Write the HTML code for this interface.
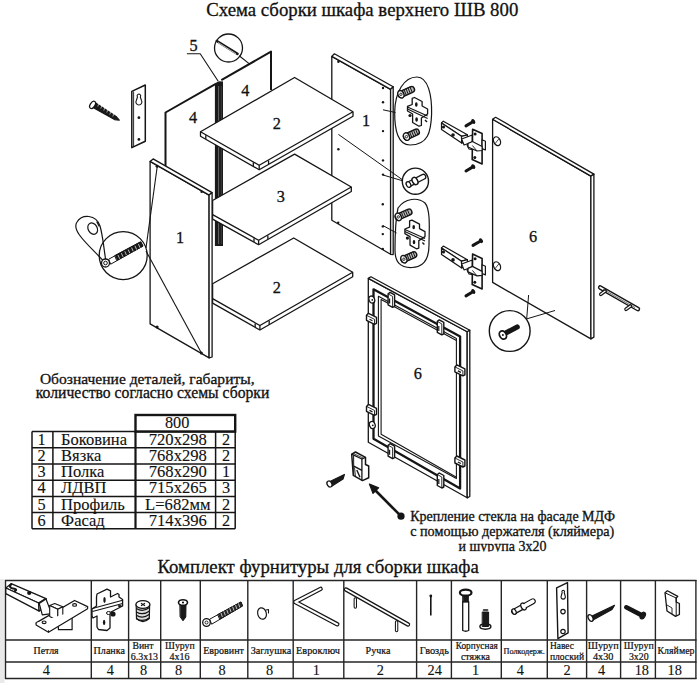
<!DOCTYPE html>
<html><head><meta charset="utf-8"><style>
html,body{margin:0;padding:0;background:#fff;}
svg{display:block;}
text{font-family:"Liberation Serif",serif;fill:#111;stroke:#111;stroke-width:0.3px;}
</style></head><body>
<svg width="700" height="683" viewBox="0 0 700 683">
<rect width="700" height="683" fill="#fff"/>
<text x="206.2" y="16" font-size="18.8" text-anchor="start" >Схема сборки шкафа верхнего ШВ 800</text>
<polygon points="131.8,91.4 145.3,85 145.3,141.2 131.8,147.6" fill="none" stroke="#151515" stroke-width="1.5" stroke-linejoin="round"/>
<line x1="133.6" y1="91.5" x2="133.6" y2="147" stroke="#151515" stroke-width="0.9"/>
<path d="M137.5,97 a1.8,1.8 0 1 1 2.8,0 l1.2,3.5 a3,3 0 1 1 -5.2,0 z" fill="none" stroke="#151515" stroke-width="1.1" stroke-linejoin="round" stroke-linecap="round"/>
<circle cx="138.9" cy="117.7" r="1.4" fill="#151515"/>
<circle cx="138.9" cy="139.4" r="1.4" fill="#151515"/>
<path d="M94.5,102.3 L116.5,116.8 L119.3,120.2 L114.5,119.6 L92.5,107.2 Z" fill="#1a1a1a" stroke="#151515" stroke-width="1.1" stroke-linejoin="round" stroke-linecap="round"/>
<line x1="99.0" y1="103.3" x2="97.8" y2="106.5" stroke="#fff" stroke-width="0.6"/>
<line x1="102.0" y1="105.3" x2="100.8" y2="108.5" stroke="#fff" stroke-width="0.6"/>
<line x1="105.0" y1="107.3" x2="103.8" y2="110.5" stroke="#fff" stroke-width="0.6"/>
<line x1="108.0" y1="109.3" x2="106.8" y2="112.5" stroke="#fff" stroke-width="0.6"/>
<line x1="111.0" y1="111.3" x2="109.8" y2="114.5" stroke="#fff" stroke-width="0.6"/>
<line x1="114.0" y1="113.3" x2="112.8" y2="116.5" stroke="#fff" stroke-width="0.6"/>
<ellipse cx="92.6" cy="104.9" rx="2.3" ry="4.0" transform="rotate(33 92.6 104.9)" fill="#fff" stroke="#151515" stroke-width="1.3"/>
<polyline points="165.5,168 165.5,112.5 215.3,84.1" fill="none" stroke="#151515" stroke-width="2.0" stroke-linejoin="round"/>
<polyline points="221.3,80.2 271,51.6 271,90" fill="none" stroke="#151515" stroke-width="2.0" stroke-linejoin="round"/>
<text x="193" y="123" font-size="16.3" text-anchor="middle" >4</text>
<text x="245.3" y="96" font-size="16.3" text-anchor="middle" >4</text>
<polygon points="214.9,83.2 219,81.2 223,81.4 223,246 214.9,246" fill="#1a1a1a"/>
<line x1="218.6" y1="86" x2="218.6" y2="244" stroke="#999" stroke-width="0.6"/>
<line x1="221.3" y1="86" x2="221.3" y2="244" stroke="#666" stroke-width="0.5"/>
<text x="193.5" y="50.5" font-size="16.3" text-anchor="middle" >5</text>
<polyline points="186.9,53.7 200.2,53.7 218.2,81.2" fill="none" stroke="#151515" stroke-width="1.1" stroke-linejoin="round"/>
<circle cx="228.5" cy="48" r="14" fill="none" stroke="#151515" stroke-width="1.3"/>
<path d="M216.8,41 L237.5,53.8" fill="none" stroke="#151515" stroke-width="2.6" stroke-linejoin="round" stroke-linecap="round"/>
<line x1="218" y1="42.5" x2="236" y2="53.8" stroke="#fff" stroke-width="0.7"/>
<line x1="239.2" y1="55.7" x2="249.4" y2="63.9" stroke="#151515" stroke-width="1.1"/>
<polygon points="331.8,56.4 390.6,89.4 390.6,254.3 331.8,220.2" fill="#fff" stroke="#151515" stroke-width="1.3" stroke-linejoin="round"/>
<polygon points="331.8,56.4 334.40000000000003,53.8 393.20000000000005,86.80000000000001 390.6,89.4" fill="#fff" stroke="#151515" stroke-width="1.3" stroke-linejoin="round"/>
<polygon points="390.6,89.4 393.20000000000005,86.80000000000001 393.20000000000005,254.6 390.6,254.3" fill="#fff" stroke="#151515" stroke-width="1.3" stroke-linejoin="round"/>
<text x="366" y="126" font-size="16.3" text-anchor="middle" >1</text>
<circle cx="338.4" cy="61.8" r="1.2" fill="#151515"/>
<circle cx="383" cy="88" r="1.2" fill="#151515"/>
<circle cx="383" cy="102.2" r="1.2" fill="#151515"/>
<circle cx="383" cy="131.1" r="1.2" fill="#151515"/>
<circle cx="383" cy="160.4" r="1.2" fill="#151515"/>
<circle cx="338.4" cy="149.3" r="1.2" fill="#151515"/>
<circle cx="383" cy="174.6" r="1.2" fill="#151515"/>
<circle cx="382.8" cy="204.3" r="1.2" fill="#151515"/>
<circle cx="382.8" cy="226.4" r="1.2" fill="#151515"/>
<circle cx="382.8" cy="234.1" r="1.2" fill="#151515"/>
<circle cx="382.8" cy="248.9" r="1.2" fill="#151515"/>
<circle cx="338.2" cy="222.8" r="1.2" fill="#151515"/>
<line x1="383" y1="109.8" x2="395.5" y2="112.5" stroke="#151515" stroke-width="1.0"/>
<line x1="338.4" y1="134.4" x2="402.1" y2="179.5" stroke="#151515" stroke-width="1.0"/>
<line x1="383" y1="175" x2="402" y2="180.6" stroke="#151515" stroke-width="1.0"/>
<line x1="383" y1="225.6" x2="396.6" y2="233" stroke="#151515" stroke-width="1.0"/>
<polygon points="200.5,131.7 294.6,77.5 353,111.8 353,116.3 259.2,169.8 200.5,136.2" fill="#fff" stroke="#151515" stroke-width="1.3" stroke-linejoin="round"/>
<polyline points="200.5,131.7 259.2,165.3 353,111.8" fill="none" stroke="#151515" stroke-width="1.3" stroke-linejoin="round"/>
<line x1="259.2" y1="165.3" x2="259.2" y2="169.8" stroke="#151515" stroke-width="1.3"/>
<line x1="205.783" y1="135.32399999999998" x2="205.783" y2="138.92399999999998" stroke="#151515" stroke-width="1.3"/>
<line x1="253.32999999999998" y1="162.54" x2="253.32999999999998" y2="166.14" stroke="#151515" stroke-width="1.3"/>
<line x1="268.58" y1="160.55" x2="268.58" y2="164.15" stroke="#151515" stroke-width="1.3"/>
<polygon points="212.6,200.5 294.6,154.1 351.3,187 351.3,191.5 258.6,244.7 212.6,219.1" fill="#fff" stroke="#151515" stroke-width="1.3" stroke-linejoin="round"/>
<polyline points="212.6,214.6 258.6,240.2 351.3,187" fill="none" stroke="#151515" stroke-width="1.3" stroke-linejoin="round"/>
<line x1="258.6" y1="240.2" x2="258.6" y2="244.7" stroke="#151515" stroke-width="1.3"/>
<line x1="254.00000000000003" y1="238.23999999999998" x2="254.00000000000003" y2="241.83999999999997" stroke="#151515" stroke-width="1.3"/>
<line x1="267.87" y1="235.48" x2="267.87" y2="239.07999999999998" stroke="#151515" stroke-width="1.3"/>
<polygon points="212.6,283.7 293.7,238 352.7,272.3 352.7,276.8 259.9,330.0 212.6,303.1" fill="#fff" stroke="#151515" stroke-width="1.3" stroke-linejoin="round"/>
<polyline points="212.6,298.6 259.9,325.5 352.7,272.3" fill="none" stroke="#151515" stroke-width="1.3" stroke-linejoin="round"/>
<line x1="259.9" y1="325.5" x2="259.9" y2="330.0" stroke="#151515" stroke-width="1.3"/>
<line x1="255.17" y1="323.41" x2="255.17" y2="327.01" stroke="#151515" stroke-width="1.3"/>
<line x1="269.17999999999995" y1="320.78000000000003" x2="269.17999999999995" y2="324.38" stroke="#151515" stroke-width="1.3"/>
<text x="276.7" y="128.5" font-size="16.3" text-anchor="middle" >2</text>
<text x="280.8" y="202" font-size="16.3" text-anchor="middle" >3</text>
<text x="276.7" y="293" font-size="16.3" text-anchor="middle" >2</text>
<polygon points="150.1,161.4 209.1,195.1 209.1,357.9 150.1,323.9" fill="#fff" stroke="#151515" stroke-width="1.3" stroke-linejoin="round"/>
<polygon points="150.1,161.4 153.1,158.9 212.1,192.6 209.1,195.1" fill="#fff" stroke="#151515" stroke-width="1.3" stroke-linejoin="round"/>
<polygon points="209.1,195.1 212.1,192.6 212.1,357 209.1,357.9" fill="#fff" stroke="#151515" stroke-width="1.3" stroke-linejoin="round"/>
<text x="180" y="242.5" font-size="16.3" text-anchor="middle" >1</text>
<circle cx="157.1" cy="166.3" r="1.5" fill="#151515"/>
<circle cx="157.1" cy="327.1" r="1.5" fill="#151515"/>
<circle cx="201.4" cy="352.9" r="1.5" fill="#151515"/>
<circle cx="201.7" cy="191.7" r="1.3" fill="#151515"/>
<line x1="157.3" y1="166" x2="146" y2="248" stroke="#151515" stroke-width="1.1"/>
<line x1="146" y1="251" x2="201.4" y2="352.9" stroke="#151515" stroke-width="1.1"/>
<circle cx="123.2" cy="255.6" r="24" fill="none" stroke="#151515" stroke-width="1.3"/>
<path d="M105,263 C95,250 70,232 77,222 C82,214 96,214 100,226 C103,236 104,250 106,262" fill="none" stroke="#151515" stroke-width="1.2" stroke-linejoin="round" stroke-linecap="round"/>
<ellipse cx="92.7" cy="228.6" rx="4.5" ry="6" transform="rotate(-30 92.7 228.6)" fill="none" stroke="#151515" stroke-width="1.2"/>
<path d="M99,226 L97,222" fill="none" stroke="#151515" stroke-width="1.2" stroke-linejoin="round" stroke-linecap="round"/>
<path d="M109,259 L141,242 L143,246 L111,264 Z" fill="#fff" stroke="#151515" stroke-width="1" stroke-linejoin="round" stroke-linecap="round"/>
<path d="M115,255.5 L140.5,241.8 L142.8,246.2 L117,260.2 Z" fill="#1a1a1a" stroke="#151515" stroke-width="1" stroke-linejoin="round" stroke-linecap="round"/>
<line x1="118.0" y1="255.0" x2="119.6" y2="258.7" stroke="#fff" stroke-width="0.7"/>
<line x1="121.4" y1="253.17" x2="123.0" y2="256.87" stroke="#fff" stroke-width="0.7"/>
<line x1="124.8" y1="251.34" x2="126.39999999999999" y2="255.04" stroke="#fff" stroke-width="0.7"/>
<line x1="128.2" y1="249.51" x2="129.79999999999998" y2="253.20999999999998" stroke="#fff" stroke-width="0.7"/>
<line x1="131.6" y1="247.68" x2="133.2" y2="251.38" stroke="#fff" stroke-width="0.7"/>
<line x1="135.0" y1="245.85" x2="136.6" y2="249.54999999999998" stroke="#fff" stroke-width="0.7"/>
<line x1="138.4" y1="244.02" x2="140.0" y2="247.72" stroke="#fff" stroke-width="0.7"/>
<circle cx="105.5" cy="263" r="4" fill="#fff" stroke="#151515" stroke-width="1.3"/>
<circle cx="105.5" cy="263" r="1.8" fill="none" stroke="#151515" stroke-width="1"/>
<circle cx="415.4" cy="181.2" r="13.1" fill="#fff" stroke="#151515" stroke-width="1.4"/>
<path d="M409,184.2 L423.3,176.8" fill="none" stroke="#151515" stroke-width="6.2" stroke-linejoin="round" stroke-linecap="round"/>
<path d="M409,184.2 L423.3,176.8" fill="none" stroke="#fff" stroke-width="3.6" stroke-linejoin="round" stroke-linecap="round"/>
<ellipse cx="415" cy="181" rx="2.6" ry="3.9" transform="rotate(-28 415 181)" fill="#fff" stroke="#151515" stroke-width="1.5"/>
<ellipse cx="408.5" cy="184.5" rx="2.1" ry="3.0" transform="rotate(-28 408.5 184.5)" fill="#fff" stroke="#151515" stroke-width="1.3"/>
<path d="M417,77 C428,77 432,95 431.6,114 C431,132 428,145 410,145 C398,145 394.5,130 394.7,112 C395,92 404,77 417,77 Z" fill="none" stroke="#151515" stroke-width="1.2" stroke-linejoin="round" stroke-linecap="round"/>
<path d="M398,208 C405,198 418,197 425,203 C431,210 429,232 429,245 C429,258 424,267 412,267.5 C400,268 395,262 395,250 C395,235 395,222 398,208 Z" fill="none" stroke="#151515" stroke-width="1.2" stroke-linejoin="round" stroke-linecap="round"/>
<path d="M400.9,94.3 L411.5,89.6" fill="none" stroke="#151515" stroke-width="7.4" stroke-linejoin="round" stroke-linecap="round"/>
<path d="M400.9,94.3 L411.5,89.6" fill="none" stroke="#bbb" stroke-width="4.6" stroke-linejoin="round" stroke-linecap="round"/>
<line x1="401.79999999999995" y1="90.1" x2="404.4" y2="96.3" stroke="#151515" stroke-width="1.0"/>
<line x1="403.79999999999995" y1="89.21" x2="406.4" y2="95.41" stroke="#151515" stroke-width="1.0"/>
<line x1="405.79999999999995" y1="88.32" x2="408.4" y2="94.52" stroke="#151515" stroke-width="1.0"/>
<line x1="407.79999999999995" y1="87.42999999999999" x2="410.4" y2="93.63" stroke="#151515" stroke-width="1.0"/>
<line x1="409.79999999999995" y1="86.53999999999999" x2="412.4" y2="92.74" stroke="#151515" stroke-width="1.0"/>
<ellipse cx="400.9" cy="94.3" rx="2.9" ry="3.9" transform="rotate(-25 400.9 94.3)" fill="#fff" stroke="#151515" stroke-width="1.5"/>
<circle cx="400.9" cy="94.3" r="1.2" fill="none" stroke="#151515" stroke-width="0.9"/>
<path d="M406.5,136.6 L416.3,132.2" fill="none" stroke="#151515" stroke-width="7.4" stroke-linejoin="round" stroke-linecap="round"/>
<path d="M406.5,136.6 L416.3,132.2" fill="none" stroke="#bbb" stroke-width="4.6" stroke-linejoin="round" stroke-linecap="round"/>
<line x1="407.4" y1="132.4" x2="410.0" y2="138.6" stroke="#151515" stroke-width="1.0"/>
<line x1="409.4" y1="131.51000000000002" x2="412.0" y2="137.71" stroke="#151515" stroke-width="1.0"/>
<line x1="411.4" y1="130.62" x2="414.0" y2="136.82" stroke="#151515" stroke-width="1.0"/>
<line x1="413.4" y1="129.73000000000002" x2="416.0" y2="135.93" stroke="#151515" stroke-width="1.0"/>
<line x1="415.4" y1="128.84" x2="418.0" y2="135.04" stroke="#151515" stroke-width="1.0"/>
<ellipse cx="406.5" cy="136.6" rx="2.9" ry="3.9" transform="rotate(-25 406.5 136.6)" fill="#fff" stroke="#151515" stroke-width="1.5"/>
<circle cx="406.5" cy="136.6" r="1.2" fill="none" stroke="#151515" stroke-width="0.9"/>
<path d="M412.2,98.3 L414.5,97.5 L422.1,101.5 L422.1,106 L427.6,109 L427.6,114 L421.4,118 L421.4,125.5 L419,126.2 L412.6,122.5 L412.6,114 L407.5,111 L407.5,106.4 L412.2,104.5 Z" fill="#fff" stroke="#151515" stroke-width="1.3" stroke-linejoin="round" stroke-linecap="round"/>
<line x1="407.5" y1="107" x2="427.6" y2="116" stroke="#151515" stroke-width="1.1"/>
<line x1="407.5" y1="109" x2="427.6" y2="118.5" stroke="#151515" stroke-width="1.1"/>
<ellipse cx="416.3" cy="104.5" rx="1.3" ry="2.2" fill="#151515"/>
<ellipse cx="416.6" cy="119.5" rx="1.3" ry="2.2" fill="#151515"/>
<circle cx="410" cy="115.5" r="1.6" fill="#151515"/>
<line x1="425" y1="120" x2="427" y2="122" stroke="#151515" stroke-width="1.4"/>
<path d="M398.29999999999995,216.89999999999998 L408.9,212.2" fill="none" stroke="#151515" stroke-width="7.4" stroke-linejoin="round" stroke-linecap="round"/>
<path d="M398.29999999999995,216.89999999999998 L408.9,212.2" fill="none" stroke="#bbb" stroke-width="4.6" stroke-linejoin="round" stroke-linecap="round"/>
<line x1="399.19999999999993" y1="212.7" x2="401.79999999999995" y2="218.89999999999998" stroke="#151515" stroke-width="1.0"/>
<line x1="401.19999999999993" y1="211.81" x2="403.79999999999995" y2="218.01" stroke="#151515" stroke-width="1.0"/>
<line x1="403.19999999999993" y1="210.92" x2="405.79999999999995" y2="217.11999999999998" stroke="#151515" stroke-width="1.0"/>
<line x1="405.19999999999993" y1="210.03" x2="407.79999999999995" y2="216.23" stroke="#151515" stroke-width="1.0"/>
<line x1="407.19999999999993" y1="209.14" x2="409.79999999999995" y2="215.33999999999997" stroke="#151515" stroke-width="1.0"/>
<ellipse cx="398.29999999999995" cy="216.89999999999998" rx="2.9" ry="3.9" transform="rotate(-25 398.29999999999995 216.89999999999998)" fill="#fff" stroke="#151515" stroke-width="1.5"/>
<circle cx="398.29999999999995" cy="216.89999999999998" r="1.2" fill="none" stroke="#151515" stroke-width="0.9"/>
<path d="M403.9,259.2 L413.7,254.79999999999998" fill="none" stroke="#151515" stroke-width="7.4" stroke-linejoin="round" stroke-linecap="round"/>
<path d="M403.9,259.2 L413.7,254.79999999999998" fill="none" stroke="#bbb" stroke-width="4.6" stroke-linejoin="round" stroke-linecap="round"/>
<line x1="404.79999999999995" y1="255.0" x2="407.4" y2="261.2" stroke="#151515" stroke-width="1.0"/>
<line x1="406.79999999999995" y1="254.11" x2="409.4" y2="260.31" stroke="#151515" stroke-width="1.0"/>
<line x1="408.79999999999995" y1="253.22000000000003" x2="411.4" y2="259.42" stroke="#151515" stroke-width="1.0"/>
<line x1="410.79999999999995" y1="252.33" x2="413.4" y2="258.53" stroke="#151515" stroke-width="1.0"/>
<line x1="412.79999999999995" y1="251.44" x2="415.4" y2="257.64" stroke="#151515" stroke-width="1.0"/>
<ellipse cx="403.9" cy="259.2" rx="2.9" ry="3.9" transform="rotate(-25 403.9 259.2)" fill="#fff" stroke="#151515" stroke-width="1.5"/>
<circle cx="403.9" cy="259.2" r="1.2" fill="none" stroke="#151515" stroke-width="0.9"/>
<path d="M409.59999999999997,220.89999999999998 L411.9,220.1 L419.5,224.1 L419.5,228.6 L425.0,231.6 L425.0,236.6 L418.79999999999995,240.6 L418.79999999999995,248.1 L416.4,248.8 L410.0,245.1 L410.0,236.6 L404.9,233.6 L404.9,229.0 L409.59999999999997,227.1 Z" fill="#fff" stroke="#151515" stroke-width="1.3" stroke-linejoin="round" stroke-linecap="round"/>
<line x1="404.9" y1="229.6" x2="425.0" y2="238.6" stroke="#151515" stroke-width="1.1"/>
<line x1="404.9" y1="231.6" x2="425.0" y2="241.1" stroke="#151515" stroke-width="1.1"/>
<ellipse cx="413.7" cy="227.1" rx="1.3" ry="2.2" fill="#151515"/>
<ellipse cx="414.0" cy="242.1" rx="1.3" ry="2.2" fill="#151515"/>
<circle cx="407.4" cy="238.1" r="1.6" fill="#151515"/>
<line x1="422.4" y1="242.6" x2="424.4" y2="244.6" stroke="#151515" stroke-width="1.4"/>
<path d="M441.5,123 L443.3,121.2 L467.4,134.8 L461.5,136.3 Z" fill="#fff" stroke="#151515" stroke-width="1.2" stroke-linejoin="round" stroke-linecap="round"/>
<path d="M441.5,123 L461.5,136.3 L461.7,143.1 L441.5,129.5 Z" fill="#fff" stroke="#151515" stroke-width="1.2" stroke-linejoin="round" stroke-linecap="round"/>
<path d="M461.5,136.3 L467.4,134.8 L467.4,141 L461.7,143.1 Z" fill="#fff" stroke="#151515" stroke-width="1.2" stroke-linejoin="round" stroke-linecap="round"/>
<circle cx="453" cy="135" r="1.8" fill="#151515"/>
<circle cx="443.5" cy="127" r="1.6" fill="#151515"/>
<path d="M461.7,139 L472.3,135 L472.3,142 L464,145 Z" fill="#fff" stroke="#151515" stroke-width="1.1" stroke-linejoin="round" stroke-linecap="round"/>
<path d="M467,145 L472.3,142 L474,150 L469,149 Z" fill="#fff" stroke="#151515" stroke-width="1.1" stroke-linejoin="round" stroke-linecap="round"/>
<polygon points="472.6,129.2 482.1,133.6 482.1,164 472.2,159.6" fill="#fff" stroke="#151515" stroke-width="1.6" stroke-linejoin="round"/>
<polygon points="482.1,139.8 485.4,141.3 485.4,150 482.1,148.6" fill="#fff" stroke="#151515" stroke-width="1.2" stroke-linejoin="round"/>
<polygon points="468,143.5 472.4,141.5 482.1,146.5 482.1,150.5 477,151 468,147" fill="#fff" stroke="#151515" stroke-width="1.2" stroke-linejoin="round"/>
<line x1="472.4" y1="145.5" x2="477" y2="151" stroke="#151515" stroke-width="0.9"/>
<circle cx="475.1" cy="133.9" r="1.5" fill="#151515"/>
<circle cx="474.8" cy="157.4" r="1.5" fill="#151515"/>
<path d="M466,125.9 L473.3,121.5" fill="none" stroke="#151515" stroke-width="3.0" stroke-linejoin="round" stroke-linecap="round"/>
<ellipse cx="473.3" cy="121.5" rx="1.7" ry="2.6" transform="rotate(-35 473.3 121.5)" fill="#151515"/>
<path d="M466,171 L473.3,166.6" fill="none" stroke="#151515" stroke-width="3.0" stroke-linejoin="round" stroke-linecap="round"/>
<ellipse cx="473.3" cy="166.6" rx="1.7" ry="2.6" transform="rotate(-35 473.3 166.6)" fill="#151515"/>
<path d="M441.5,247.9 L443.3,246.10000000000002 L467.4,259.70000000000005 L461.5,261.20000000000005 Z" fill="#fff" stroke="#151515" stroke-width="1.2" stroke-linejoin="round" stroke-linecap="round"/>
<path d="M441.5,247.9 L461.5,261.20000000000005 L461.7,268.0 L441.5,254.4 Z" fill="#fff" stroke="#151515" stroke-width="1.2" stroke-linejoin="round" stroke-linecap="round"/>
<path d="M461.5,261.20000000000005 L467.4,259.70000000000005 L467.4,265.9 L461.7,268.0 Z" fill="#fff" stroke="#151515" stroke-width="1.2" stroke-linejoin="round" stroke-linecap="round"/>
<circle cx="453" cy="259.9" r="1.8" fill="#151515"/>
<circle cx="443.5" cy="251.9" r="1.6" fill="#151515"/>
<path d="M461.7,263.9 L472.3,259.9 L472.3,266.9 L464,269.9 Z" fill="#fff" stroke="#151515" stroke-width="1.1" stroke-linejoin="round" stroke-linecap="round"/>
<path d="M467,269.9 L472.3,266.9 L474,274.9 L469,273.9 Z" fill="#fff" stroke="#151515" stroke-width="1.1" stroke-linejoin="round" stroke-linecap="round"/>
<polygon points="472.6,254.1 482.1,258.5 482.1,288.9 472.2,284.5" fill="#fff" stroke="#151515" stroke-width="1.6" stroke-linejoin="round"/>
<polygon points="482.1,264.70000000000005 485.4,266.20000000000005 485.4,274.9 482.1,273.5" fill="#fff" stroke="#151515" stroke-width="1.2" stroke-linejoin="round"/>
<polygon points="468,268.4 472.4,266.4 482.1,271.4 482.1,275.4 477,275.9 468,271.9" fill="#fff" stroke="#151515" stroke-width="1.2" stroke-linejoin="round"/>
<line x1="472.4" y1="270.4" x2="477" y2="275.9" stroke="#151515" stroke-width="0.9"/>
<circle cx="475.1" cy="258.8" r="1.5" fill="#151515"/>
<circle cx="474.8" cy="282.3" r="1.5" fill="#151515"/>
<path d="M473,245.4 L481,240.7" fill="none" stroke="#151515" stroke-width="3.0" stroke-linejoin="round" stroke-linecap="round"/>
<ellipse cx="481" cy="240.7" rx="1.7" ry="2.6" transform="rotate(-35 481 240.7)" fill="#151515"/>
<path d="M466,295.9 L473.3,291.5" fill="none" stroke="#151515" stroke-width="3.0" stroke-linejoin="round" stroke-linecap="round"/>
<ellipse cx="473.3" cy="291.5" rx="1.7" ry="2.6" transform="rotate(-35 473.3 291.5)" fill="#151515"/>
<polygon points="492.6,119.3 590.9,176.1 590.9,338.9 492.6,282.4" fill="#fff" stroke="#151515" stroke-width="1.3" stroke-linejoin="round"/>
<polygon points="492.6,119.3 495.6,117.3 593.9,174.1 590.9,176.1" fill="#fff" stroke="#151515" stroke-width="1.3" stroke-linejoin="round"/>
<polygon points="590.9,176.1 593.9,174.1 593.9,337.1 590.9,338.9" fill="#fff" stroke="#151515" stroke-width="1.3" stroke-linejoin="round"/>
<ellipse cx="497" cy="141.2" rx="3.3" ry="4.6" transform="rotate(-25 497 141.2)" fill="#fff" stroke="#151515" stroke-width="1.3"/>
<line x1="495" y1="143.7" x2="499" y2="138.7" stroke="#151515" stroke-width="0.8"/>
<ellipse cx="497" cy="266.2" rx="3.3" ry="4.6" transform="rotate(-25 497 266.2)" fill="#fff" stroke="#151515" stroke-width="1.3"/>
<line x1="495" y1="268.7" x2="499" y2="263.7" stroke="#151515" stroke-width="0.8"/>
<text x="533.1" y="242" font-size="16.3" text-anchor="middle" >6</text>
<line x1="526.7" y1="318.9" x2="528.6" y2="295" stroke="#151515" stroke-width="1.0"/>
<line x1="526.7" y1="318.9" x2="555" y2="310.5" stroke="#151515" stroke-width="1.0"/>
<circle cx="509.7" cy="331" r="20.4" fill="#fff" stroke="#151515" stroke-width="1.4"/>
<path d="M506.2,332.8 L517.2,327" fill="none" stroke="#151515" stroke-width="5.2" stroke-linejoin="round" stroke-linecap="round"/>
<ellipse cx="502.9" cy="335" rx="3.3" ry="4.4" transform="rotate(-30 502.9 335)" fill="#fff" stroke="#151515" stroke-width="1.8"/>
<circle cx="502.9" cy="335" r="1.0" fill="#151515"/>
<path d="M600.2,287.5 L637.9,309.1" fill="none" stroke="#151515" stroke-width="4.6" stroke-linejoin="round" stroke-linecap="round"/>
<path d="M600.2,287.5 L637.9,309.1" fill="none" stroke="#fff" stroke-width="1.8" stroke-linejoin="round" stroke-linecap="round"/>
<path d="M605.2,291 L600.8,294.3" fill="none" stroke="#151515" stroke-width="3.6" stroke-linejoin="round" stroke-linecap="round"/>
<path d="M605.2,291 L600.8,294.3" fill="none" stroke="#fff" stroke-width="1.2" stroke-linejoin="round" stroke-linecap="round"/>
<path d="M630.5,306 L626,309.3" fill="none" stroke="#151515" stroke-width="3.6" stroke-linejoin="round" stroke-linecap="round"/>
<path d="M630.5,306 L626,309.3" fill="none" stroke="#fff" stroke-width="1.2" stroke-linejoin="round" stroke-linecap="round"/>
<line x1="603" y1="289.2" x2="635" y2="307.6" stroke="#151515" stroke-width="0.6"/>
<polygon points="368.3,278.4 467.2,331.8 467.2,497.8 368.3,442.2" fill="#fff" stroke="#151515" stroke-width="1.3" stroke-linejoin="round"/>
<polygon points="368.3,278.4 370.90000000000003,276.79999999999995 469.8,330.2 467.2,331.8" fill="#fff" stroke="#151515" stroke-width="1.3" stroke-linejoin="round"/>
<polygon points="467.2,331.8 469.8,330.2 469.8,496.5 467.2,497.8" fill="#fff" stroke="#151515" stroke-width="1.3" stroke-linejoin="round"/>
<polygon points="373.5,289.3 460.1,336.4 460.1,488.6 373.5,438.7" fill="none" stroke="#151515" stroke-width="2.3" stroke-linejoin="round"/>
<polygon points="378.4,296.2 456.4,338.6 456.4,478.6 378.4,436.0" fill="none" stroke="#151515" stroke-width="1.1" stroke-linejoin="round"/>
<polyline points="456.4,340.5 381.1,299.5 381.1,434.3 456.4,477.2" fill="none" stroke="#151515" stroke-width="1.1" stroke-linejoin="round"/>
<text x="417.9" y="379" font-size="16.3" text-anchor="middle" >6</text>
<polygon points="388.1,293.9 390.1,292.4 394.6,294.9 394.6,306.4 392.6,307.4 388.1,304.9" fill="#fff" stroke="#151515" stroke-width="1.4" stroke-linejoin="round"/>
<line x1="388.1" y1="293.9" x2="392.6" y2="296.4" stroke="#151515" stroke-width="0.9"/>
<line x1="392.6" y1="296.4" x2="392.6" y2="307.4" stroke="#151515" stroke-width="0.9"/>
<line x1="389.6" y1="298.4" x2="389.6" y2="303.4" stroke="#151515" stroke-width="1.2"/>
<polygon points="437.3,321.4 439.3,319.9 443.8,322.4 443.8,333.9 441.8,334.9 437.3,332.4" fill="#fff" stroke="#151515" stroke-width="1.4" stroke-linejoin="round"/>
<line x1="437.3" y1="321.4" x2="441.8" y2="323.9" stroke="#151515" stroke-width="0.9"/>
<line x1="441.8" y1="323.9" x2="441.8" y2="334.9" stroke="#151515" stroke-width="0.9"/>
<line x1="438.8" y1="325.9" x2="438.8" y2="330.9" stroke="#151515" stroke-width="1.2"/>
<polygon points="388.1,445.2 390.1,443.7 394.6,446.2 394.6,457.7 392.6,458.7 388.1,456.2" fill="#fff" stroke="#151515" stroke-width="1.4" stroke-linejoin="round"/>
<line x1="388.1" y1="445.2" x2="392.6" y2="447.7" stroke="#151515" stroke-width="0.9"/>
<line x1="392.6" y1="447.7" x2="392.6" y2="458.7" stroke="#151515" stroke-width="0.9"/>
<line x1="389.6" y1="449.7" x2="389.6" y2="454.7" stroke="#151515" stroke-width="1.2"/>
<polygon points="437.3,474.5 439.3,473 443.8,475.5 443.8,487 441.8,488 437.3,485.5" fill="#fff" stroke="#151515" stroke-width="1.4" stroke-linejoin="round"/>
<line x1="437.3" y1="474.5" x2="441.8" y2="477" stroke="#151515" stroke-width="0.9"/>
<line x1="441.8" y1="477" x2="441.8" y2="488" stroke="#151515" stroke-width="0.9"/>
<line x1="438.8" y1="479" x2="438.8" y2="484" stroke="#151515" stroke-width="1.2"/>
<polygon points="454.9,366.9 456.9,364.9 464.9,368.9 464.9,374.9 462.9,375.9 454.9,371.9" fill="#fff" stroke="#151515" stroke-width="1.4" stroke-linejoin="round"/>
<line x1="454.9" y1="366.9" x2="462.9" y2="370.9" stroke="#151515" stroke-width="0.9"/>
<line x1="462.9" y1="370.9" x2="462.9" y2="375.9" stroke="#151515" stroke-width="0.9"/>
<line x1="457.9" y1="370.9" x2="460.9" y2="372.4" stroke="#151515" stroke-width="1.2"/>
<polygon points="454.9,458 456.9,456 464.9,460 464.9,466 462.9,467 454.9,463" fill="#fff" stroke="#151515" stroke-width="1.4" stroke-linejoin="round"/>
<line x1="454.9" y1="458" x2="462.9" y2="462" stroke="#151515" stroke-width="0.9"/>
<line x1="462.9" y1="462" x2="462.9" y2="467" stroke="#151515" stroke-width="0.9"/>
<line x1="457.9" y1="462" x2="460.9" y2="463.5" stroke="#151515" stroke-width="1.2"/>
<polygon points="366.5,315.3 368.5,313.3 376.5,317.3 376.5,323.3 374.5,324.3 366.5,320.3" fill="#fff" stroke="#151515" stroke-width="1.4" stroke-linejoin="round"/>
<line x1="366.5" y1="315.3" x2="374.5" y2="319.3" stroke="#151515" stroke-width="0.9"/>
<line x1="374.5" y1="319.3" x2="374.5" y2="324.3" stroke="#151515" stroke-width="0.9"/>
<line x1="369.5" y1="319.3" x2="372.5" y2="320.8" stroke="#151515" stroke-width="1.2"/>
<polygon points="366.5,406.4 368.5,404.4 376.5,408.4 376.5,414.4 374.5,415.4 366.5,411.4" fill="#fff" stroke="#151515" stroke-width="1.4" stroke-linejoin="round"/>
<line x1="366.5" y1="406.4" x2="374.5" y2="410.4" stroke="#151515" stroke-width="0.9"/>
<line x1="374.5" y1="410.4" x2="374.5" y2="415.4" stroke="#151515" stroke-width="0.9"/>
<line x1="369.5" y1="410.4" x2="372.5" y2="411.9" stroke="#151515" stroke-width="1.2"/>
<ellipse cx="371.8" cy="299.6" rx="2.8" ry="3.6" transform="rotate(-20 371.8 299.6)" fill="#fff" stroke="#151515" stroke-width="1.3"/>
<circle cx="372.3" cy="299.90000000000003" r="0.9" fill="#151515"/>
<ellipse cx="372.3" cy="425" rx="2.8" ry="3.6" transform="rotate(-20 372.3 425)" fill="#fff" stroke="#151515" stroke-width="1.3"/>
<circle cx="372.8" cy="425.3" r="0.9" fill="#151515"/>
<path d="M351.7,454.1 L355.5,452 L365.5,457.3 L365.5,464.5 L368.7,466 L368.7,477.8 L362.5,480.6 L353.3,475.4 Z" fill="#fff" stroke="#151515" stroke-width="1.5" stroke-linejoin="round" stroke-linecap="round"/>
<polyline points="351.7,454.1 361.9,459 365.5,457.3" fill="none" stroke="#151515" stroke-width="1.3" stroke-linejoin="round"/>
<line x1="353.5" y1="453.5" x2="363.5" y2="458.2" stroke="#151515" stroke-width="0.8"/>
<line x1="361.9" y1="459" x2="361.9" y2="480.3" stroke="#151515" stroke-width="1.3"/>
<line x1="353.6" y1="455.2" x2="353.8" y2="475" stroke="#151515" stroke-width="1.0"/>
<line x1="353.8" y1="466.2" x2="361.9" y2="470.3" stroke="#151515" stroke-width="1.5"/>
<line x1="356.8" y1="470" x2="360" y2="477.3" stroke="#151515" stroke-width="1.4"/>
<line x1="354.5" y1="467.5" x2="355.5" y2="476" stroke="#151515" stroke-width="0.8"/>
<path d="M331,481 L344.4,474.5 L343,479 L332,486 Z" fill="#1a1a1a" stroke="#151515" stroke-width="1.2" stroke-linejoin="round" stroke-linecap="round"/>
<ellipse cx="329.5" cy="484" rx="2.3" ry="3.2" transform="rotate(-30 329.5 484)" fill="#fff" stroke="#151515" stroke-width="1.3"/>
<line x1="401" y1="516.2" x2="375" y2="490" stroke="#151515" stroke-width="2.6"/>
<path d="M369.4,484.1 L378.6,487.8 L373.0,493.4 Z" fill="#151515" stroke="#151515" stroke-width="1.2" stroke-linejoin="round" stroke-linecap="round"/>
<circle cx="401" cy="516.2" r="3.6" fill="#151515"/>
<text x="410.2" y="521.3" font-size="14" text-anchor="start" >Крепление стекла на фасаде МДФ</text>
<text x="410.2" y="535.9" font-size="14.2" text-anchor="start" >с помощью держателя (кляймера)</text>
<text x="458.6" y="550.8" font-size="14" text-anchor="start" >и шурупа 3х20</text>
<rect x="140" y="551.6" width="400" height="8.5" fill="#fff"/>
<text x="39.9" y="384.2" font-size="15.55" text-anchor="start" >Обозначение деталей, габариты,</text>
<text x="35.8" y="398" font-size="15.7" text-anchor="start" >количество согласно схемы сборки</text>
<rect x="135.5" y="415" width="99.7" height="16.6" fill="none" stroke="#151515" stroke-width="2.4"/>
<line x1="32" y1="431.6" x2="235.2" y2="431.6" stroke="#151515" stroke-width="1.5"/>
<line x1="32" y1="447.8" x2="235.2" y2="447.8" stroke="#151515" stroke-width="1.5"/>
<line x1="32" y1="464" x2="235.2" y2="464" stroke="#151515" stroke-width="1.5"/>
<line x1="32" y1="480.2" x2="235.2" y2="480.2" stroke="#151515" stroke-width="1.5"/>
<line x1="32" y1="496.4" x2="235.2" y2="496.4" stroke="#151515" stroke-width="1.5"/>
<line x1="32" y1="512.6" x2="235.2" y2="512.6" stroke="#151515" stroke-width="1.5"/>
<line x1="32" y1="528.8" x2="235.2" y2="528.8" stroke="#151515" stroke-width="1.5"/>
<line x1="32" y1="431.6" x2="32" y2="528.8" stroke="#151515" stroke-width="1.5"/>
<line x1="52.9" y1="431.6" x2="52.9" y2="528.8" stroke="#151515" stroke-width="1.5"/>
<line x1="135.5" y1="431.6" x2="135.5" y2="528.8" stroke="#151515" stroke-width="2.2"/>
<line x1="215.6" y1="431.6" x2="215.6" y2="528.8" stroke="#151515" stroke-width="1.5"/>
<line x1="235.2" y1="431.6" x2="235.2" y2="528.8" stroke="#151515" stroke-width="1.5"/>
<text x="177.1" y="428.4" font-size="16.3" text-anchor="middle" style="stroke-width:0.12px" >800</text>
<text x="41.6" y="444.7" font-size="16.3" text-anchor="middle" style="stroke-width:0.12px" >1</text>
<text x="61.1" y="444.7" font-size="16.5" text-anchor="start" style="stroke-width:0.12px" >Боковина</text>
<text x="177.8" y="444.7" font-size="16.6" text-anchor="middle" style="stroke-width:0.12px" >720x298</text>
<text x="226" y="444.7" font-size="16.3" text-anchor="middle" style="stroke-width:0.12px" >2</text>
<text x="41.6" y="460.9" font-size="16.3" text-anchor="middle" style="stroke-width:0.12px" >2</text>
<text x="61.1" y="460.9" font-size="16.5" text-anchor="start" style="stroke-width:0.12px" >Вязка</text>
<text x="177.8" y="460.9" font-size="16.6" text-anchor="middle" style="stroke-width:0.12px" >768x298</text>
<text x="226" y="460.9" font-size="16.3" text-anchor="middle" style="stroke-width:0.12px" >2</text>
<text x="41.6" y="477.09999999999997" font-size="16.3" text-anchor="middle" style="stroke-width:0.12px" >3</text>
<text x="61.1" y="477.09999999999997" font-size="16.5" text-anchor="start" style="stroke-width:0.12px" >Полка</text>
<text x="177.8" y="477.09999999999997" font-size="16.6" text-anchor="middle" style="stroke-width:0.12px" >768x290</text>
<text x="226" y="477.09999999999997" font-size="16.3" text-anchor="middle" style="stroke-width:0.12px" >1</text>
<text x="41.6" y="493.29999999999995" font-size="16.3" text-anchor="middle" style="stroke-width:0.12px" >4</text>
<text x="61.1" y="493.29999999999995" font-size="16.5" text-anchor="start" style="stroke-width:0.12px" >ЛДВП</text>
<text x="177.8" y="493.29999999999995" font-size="16.6" text-anchor="middle" style="stroke-width:0.12px" >715x265</text>
<text x="226" y="493.29999999999995" font-size="16.3" text-anchor="middle" style="stroke-width:0.12px" >3</text>
<text x="41.6" y="509.5" font-size="16.3" text-anchor="middle" style="stroke-width:0.12px" >5</text>
<text x="61.1" y="509.5" font-size="16.5" text-anchor="start" style="stroke-width:0.12px" >Профиль</text>
<text x="177.8" y="509.5" font-size="16.6" text-anchor="middle" style="stroke-width:0.12px" >L=682мм</text>
<text x="226" y="509.5" font-size="16.3" text-anchor="middle" style="stroke-width:0.12px" >2</text>
<text x="41.6" y="525.7" font-size="16.3" text-anchor="middle" style="stroke-width:0.12px" >6</text>
<text x="61.1" y="525.7" font-size="16.5" text-anchor="start" style="stroke-width:0.12px" >Фасад</text>
<text x="177.8" y="525.7" font-size="16.6" text-anchor="middle" style="stroke-width:0.12px" >714x396</text>
<text x="226" y="525.7" font-size="16.3" text-anchor="middle" style="stroke-width:0.12px" >2</text>
<text x="157.5" y="572.5" font-size="18.75" text-anchor="start" >Комплект фурнитуры для сборки шкафа</text>
<rect x="0" y="579" width="4.5" height="104" fill="#e9e9e9"/>
<line x1="5" y1="580.5" x2="696.5" y2="580.5" stroke="#252525" stroke-width="1.5"/>
<line x1="5" y1="640" x2="696.5" y2="640" stroke="#252525" stroke-width="1.5"/>
<line x1="5" y1="662.1" x2="696.5" y2="662.1" stroke="#252525" stroke-width="1.5"/>
<line x1="5" y1="678.5" x2="696.5" y2="678.5" stroke="#252525" stroke-width="1.5"/>
<line x1="5.5" y1="580" x2="5.5" y2="679" stroke="#252525" stroke-width="1.4"/>
<line x1="91.3" y1="580" x2="91.3" y2="679" stroke="#252525" stroke-width="1.4"/>
<line x1="128.6" y1="580" x2="128.6" y2="679" stroke="#252525" stroke-width="1.4"/>
<line x1="160.7" y1="580" x2="160.7" y2="679" stroke="#252525" stroke-width="1.4"/>
<line x1="200.3" y1="580" x2="200.3" y2="679" stroke="#252525" stroke-width="1.4"/>
<line x1="247.8" y1="580" x2="247.8" y2="679" stroke="#252525" stroke-width="1.4"/>
<line x1="293.2" y1="580" x2="293.2" y2="679" stroke="#252525" stroke-width="1.4"/>
<line x1="343.8" y1="580" x2="343.8" y2="679" stroke="#252525" stroke-width="1.4"/>
<line x1="416.6" y1="580" x2="416.6" y2="679" stroke="#252525" stroke-width="1.4"/>
<line x1="451.4" y1="580" x2="451.4" y2="679" stroke="#252525" stroke-width="1.4"/>
<line x1="501.3" y1="580" x2="501.3" y2="679" stroke="#252525" stroke-width="1.4"/>
<line x1="547.3" y1="580" x2="547.3" y2="679" stroke="#252525" stroke-width="1.4"/>
<line x1="586.6" y1="580" x2="586.6" y2="679" stroke="#252525" stroke-width="1.4"/>
<line x1="620.6" y1="580" x2="620.6" y2="679" stroke="#252525" stroke-width="1.4"/>
<line x1="655.4" y1="580" x2="655.4" y2="679" stroke="#252525" stroke-width="1.4"/>
<line x1="695.9" y1="580" x2="695.9" y2="679" stroke="#252525" stroke-width="1.4"/>
<text x="33.6" y="654" font-size="10" textLength="25.0" lengthAdjust="spacingAndGlyphs" style="stroke-width:0.22px">Петля</text>
<text x="93.6" y="654" font-size="10" textLength="31.4" lengthAdjust="spacingAndGlyphs" style="stroke-width:0.22px">Планка</text>
<text x="132.4" y="648.8" font-size="10" textLength="21.2" lengthAdjust="spacingAndGlyphs" style="stroke-width:0.22px">Винт</text>
<text x="130.7" y="660" font-size="10" textLength="27.4" lengthAdjust="spacingAndGlyphs" style="stroke-width:0.22px">6.3x13</text>
<text x="165.0" y="648.8" font-size="10" textLength="29.7" lengthAdjust="spacingAndGlyphs" style="stroke-width:0.22px">Шуруп</text>
<text x="169.6" y="660" font-size="10" textLength="20.0" lengthAdjust="spacingAndGlyphs" style="stroke-width:0.22px">4x16</text>
<text x="203.2" y="654" font-size="10" textLength="40.7" lengthAdjust="spacingAndGlyphs" style="stroke-width:0.22px">Евровинт</text>
<text x="250.7" y="654" font-size="10" textLength="40.6" lengthAdjust="spacingAndGlyphs" style="stroke-width:0.22px">Заглушка</text>
<text x="296.1" y="654" font-size="10" textLength="43.8" lengthAdjust="spacingAndGlyphs" style="stroke-width:0.22px">Евроключ</text>
<text x="365.6" y="654" font-size="10" textLength="24.8" lengthAdjust="spacingAndGlyphs" style="stroke-width:0.22px">Ручка</text>
<text x="419.7" y="654" font-size="10" textLength="29.2" lengthAdjust="spacingAndGlyphs" style="stroke-width:0.22px">Гвоздь</text>
<text x="455.7" y="648.8" font-size="10" textLength="42.1" lengthAdjust="spacingAndGlyphs" style="stroke-width:0.22px">Корпусная</text>
<text x="460.9" y="660" font-size="10" textLength="29.1" lengthAdjust="spacingAndGlyphs" style="stroke-width:0.22px">стяжка</text>
<text x="503.6" y="654" font-size="8.6" textLength="41.1" lengthAdjust="spacingAndGlyphs" style="stroke-width:0.22px">Полкодерж.</text>
<text x="549.9" y="648.8" font-size="10" textLength="24.0" lengthAdjust="spacingAndGlyphs" style="stroke-width:0.22px">Навес</text>
<text x="549.9" y="660" font-size="10" textLength="34.2" lengthAdjust="spacingAndGlyphs" style="stroke-width:0.22px">плоский</text>
<text x="587.7" y="648.8" font-size="10" textLength="30.9" lengthAdjust="spacingAndGlyphs" style="stroke-width:0.22px">Шуруп</text>
<text x="592.9" y="660" font-size="10" textLength="20.5" lengthAdjust="spacingAndGlyphs" style="stroke-width:0.22px">4x30</text>
<text x="623.7" y="648.8" font-size="10" textLength="30.0" lengthAdjust="spacingAndGlyphs" style="stroke-width:0.22px">Шуруп</text>
<text x="628.9" y="660" font-size="10" textLength="19.7" lengthAdjust="spacingAndGlyphs" style="stroke-width:0.22px">3x20</text>
<text x="657.5" y="654" font-size="10" textLength="37.0" lengthAdjust="spacingAndGlyphs" style="stroke-width:0.22px">Кляймер</text>
<text x="46.4" y="674.6" font-size="14.3" text-anchor="middle" style="stroke-width:0.12px" >4</text>
<text x="110.3" y="674.6" font-size="14.3" text-anchor="middle" style="stroke-width:0.12px" >4</text>
<text x="143.7" y="674.6" font-size="14.3" text-anchor="middle" style="stroke-width:0.12px" >8</text>
<text x="178.5" y="674.6" font-size="14.3" text-anchor="middle" style="stroke-width:0.12px" >8</text>
<text x="222" y="674.6" font-size="14.3" text-anchor="middle" style="stroke-width:0.12px" >8</text>
<text x="269.5" y="674.6" font-size="14.3" text-anchor="middle" style="stroke-width:0.12px" >8</text>
<text x="316.3" y="674.6" font-size="14.3" text-anchor="middle" style="stroke-width:0.12px" >1</text>
<text x="380.4" y="674.6" font-size="14.3" text-anchor="middle" style="stroke-width:0.12px" >2</text>
<text x="434.7" y="674.6" font-size="14.3" text-anchor="middle" style="stroke-width:0.12px" >24</text>
<text x="475.5" y="674.6" font-size="14.3" text-anchor="middle" style="stroke-width:0.12px" >1</text>
<text x="520.3" y="674.6" font-size="14.3" text-anchor="middle" style="stroke-width:0.12px" >4</text>
<text x="567" y="674.6" font-size="14.3" text-anchor="middle" style="stroke-width:0.12px" >2</text>
<text x="601.6" y="674.6" font-size="14.3" text-anchor="middle" style="stroke-width:0.12px" >4</text>
<text x="641.8" y="674.6" font-size="14.3" text-anchor="middle" style="stroke-width:0.12px" >18</text>
<text x="674.7" y="674.6" font-size="14.3" text-anchor="middle" style="stroke-width:0.12px" >18</text>
<polygon points="5.8,588 11.2,583.7 46,598.6 38.6,603" fill="#fff" stroke="#151515" stroke-width="1.3" stroke-linejoin="round"/>
<polygon points="5.8,588 38.6,603 39.2,611.1 5.8,593.7" fill="#fff" stroke="#151515" stroke-width="1.3" stroke-linejoin="round"/>
<polygon points="38.6,603 46,598.6 46.5,606 39.2,611.1" fill="#fff" stroke="#151515" stroke-width="1.2" stroke-linejoin="round"/>
<path d="M11,584.5 C9,586 10,588 13,588.5 C16,589 17,590 15,591" fill="none" stroke="#151515" stroke-width="2.2" stroke-linejoin="round" stroke-linecap="round"/>
<circle cx="29.2" cy="593" r="2.1" fill="#151515"/>
<polygon points="39.2,603.5 46,599 51.6,613.6 42.3,614.8" fill="#fff" stroke="#151515" stroke-width="1.2" stroke-linejoin="round"/>
<polygon points="51,607 56,604.5 60,607 60,615 51.6,613.6" fill="#fff" stroke="#151515" stroke-width="1.1" stroke-linejoin="round"/>
<polygon points="58.4,616 72.1,616 72.1,629.7 58.4,629.7" fill="#fff" stroke="#151515" stroke-width="1.2" stroke-linejoin="round"/>
<polygon points="36.1,622.9 74.6,600.5 87.6,606.7 48.5,630.3" fill="#fff" stroke="#151515" stroke-width="1.3" stroke-linejoin="round"/>
<polygon points="49.7,605.5 54.7,603.6 62.8,606.7 57.8,609.2" fill="#fff" stroke="#151515" stroke-width="1.1" stroke-linejoin="round"/>
<polygon points="49.7,605.5 49.7,616.5 57.8,620.5 57.8,609.2" fill="#fff" stroke="#151515" stroke-width="1.1" stroke-linejoin="round"/>
<polygon points="57.8,609.2 62.8,606.7 62.8,615.5 57.8,620.5" fill="#fff" stroke="#151515" stroke-width="1.1" stroke-linejoin="round"/>
<polyline points="36.1,622.9 36.1,624.9 48.5,632.3 87.6,608.7 87.6,606.7" fill="#fff" stroke="#151515" stroke-width="1.2" stroke-linejoin="round"/>
<line x1="48.5" y1="630.3" x2="48.5" y2="632.3" stroke="#151515" stroke-width="1"/>
<ellipse cx="44.1" cy="622.3" rx="2" ry="1.3" fill="none" stroke="#151515" stroke-width="1.1"/>
<ellipse cx="74.6" cy="604.9" rx="2" ry="1.3" fill="none" stroke="#151515" stroke-width="1.1"/>
<polygon points="96.5,597 97,594 107,589.2 110.5,590.8 110.5,597 117.5,593.5 119,594.5 119,597 122.6,599.5 122.6,606 110,612.5 110,628 107,630.5 98.5,629.5 97,627 97,616 93,618 92,616 92,609 96.5,606" fill="#fff" stroke="#151515" stroke-width="1.3" stroke-linejoin="round"/>
<line x1="92.4" y1="608.5" x2="122.6" y2="600.3" stroke="#151515" stroke-width="1.1"/>
<line x1="92.4" y1="611.5" x2="122.6" y2="603.5" stroke="#151515" stroke-width="1.1"/>
<ellipse cx="104.5" cy="599.9" rx="1.2" ry="3" fill="#151515"/>
<ellipse cx="104.1" cy="622.4" rx="1.2" ry="2.6" fill="#151515"/>
<ellipse cx="119.8" cy="605.9" rx="2" ry="1" fill="#151515"/>
<circle cx="113" cy="614" r="2.6" fill="#151515"/>
<ellipse cx="108.5" cy="613" rx="2" ry="1.5" fill="#fff" stroke="#151515" stroke-width="1"/>
<path d="M136.2,605.5 L136.5,618.5 Q142.9,624.5 149.3,618.5 L149.6,605.5 Z" fill="#ddd" stroke="#151515" stroke-width="1.2"/>
<path d="M136.3,608.5 Q142.9,612.5 149.5,607.5" fill="none" stroke="#151515" stroke-width="1.2"/>
<path d="M136.3,611.9 Q142.9,615.9 149.5,610.9" fill="none" stroke="#151515" stroke-width="1.2"/>
<path d="M136.3,615.3 Q142.9,619.3 149.5,614.3" fill="none" stroke="#151515" stroke-width="1.2"/>
<path d="M136.3,618.7 Q142.9,622.7 149.5,617.7" fill="none" stroke="#151515" stroke-width="1.2"/>
<ellipse cx="142.9" cy="604.5" rx="7" ry="3.9" fill="#fff" stroke="#151515" stroke-width="1.4"/>
<line x1="141" y1="603.3" x2="145" y2="605.7" stroke="#151515" stroke-width="1.1"/>
<line x1="141" y1="605.7" x2="145" y2="603.3" stroke="#151515" stroke-width="1.1"/>
<path d="M180.2,603 L186,603 L185.8,617 L183,620.8 L180.3,617 Z" fill="#1a1a1a" stroke="#151515" stroke-width="1" stroke-linejoin="round" stroke-linecap="round"/>
<ellipse cx="183" cy="602.5" rx="4.5" ry="2.8" fill="#fff" stroke="#151515" stroke-width="1.6"/>
<circle cx="183" cy="602.5" r="1.1" fill="#151515"/>
<path d="M210,619 L241,602 L242.5,606 L212,624 Z" fill="#fff" stroke="#151515" stroke-width="1" stroke-linejoin="round" stroke-linecap="round"/>
<path d="M218,614.5 L241,602 L242.5,606 L220,619 Z" fill="#2a2a2a" stroke="#151515" stroke-width="1" stroke-linejoin="round" stroke-linecap="round"/>
<line x1="221.0" y1="613.0" x2="222.4" y2="617.0" stroke="#fff" stroke-width="0.7"/>
<line x1="223.9" y1="611.4" x2="225.3" y2="615.4" stroke="#fff" stroke-width="0.7"/>
<line x1="226.8" y1="609.8" x2="228.20000000000002" y2="613.8" stroke="#fff" stroke-width="0.7"/>
<line x1="229.7" y1="608.2" x2="231.1" y2="612.2" stroke="#fff" stroke-width="0.7"/>
<line x1="232.6" y1="606.6" x2="234.0" y2="610.6" stroke="#fff" stroke-width="0.7"/>
<line x1="235.5" y1="605.0" x2="236.9" y2="609.0" stroke="#fff" stroke-width="0.7"/>
<line x1="238.4" y1="603.4" x2="239.8" y2="607.4" stroke="#fff" stroke-width="0.7"/>
<circle cx="206.5" cy="622.5" r="3.8" fill="#fff" stroke="#151515" stroke-width="1.3"/>
<circle cx="206.5" cy="622.5" r="1.5" fill="none" stroke="#151515" stroke-width="0.9"/>
<ellipse cx="262" cy="613.5" rx="4.3" ry="5.8" transform="rotate(-15 262 613.5)" fill="#fff" stroke="#151515" stroke-width="1.2"/>
<path d="M266,610 L268.5,609.5 L268.5,613" fill="none" stroke="#151515" stroke-width="1.1" stroke-linejoin="round" stroke-linecap="round"/>
<path d="M320.6,588.9 L295.3,602 L337.3,624.3" fill="none" stroke="#151515" stroke-width="4.4" stroke-linejoin="round" stroke-linecap="round"/>
<path d="M320.6,588.9 L295.3,602 L337.3,624.3" fill="none" stroke="#fff" stroke-width="2.0" stroke-linejoin="round" stroke-linecap="round"/>
<path d="M346,589.5 L408,624.5" fill="none" stroke="#151515" stroke-width="4.4" stroke-linejoin="round" stroke-linecap="round"/>
<path d="M346,589.5 L408,624.5" fill="none" stroke="#fff" stroke-width="2" stroke-linejoin="round" stroke-linecap="round"/>
<path d="M355.3,599 L355.3,607" fill="none" stroke="#151515" stroke-width="3.4" stroke-linejoin="round" stroke-linecap="round"/>
<path d="M355.3,599 L355.3,607" fill="none" stroke="#fff" stroke-width="1.3" stroke-linejoin="round" stroke-linecap="round"/>
<path d="M396.6,622 L396.6,630.5" fill="none" stroke="#151515" stroke-width="3.4" stroke-linejoin="round" stroke-linecap="round"/>
<path d="M396.6,622 L396.6,630.5" fill="none" stroke="#fff" stroke-width="1.3" stroke-linejoin="round" stroke-linecap="round"/>
<line x1="430.8" y1="595.5" x2="430.8" y2="615.5" stroke="#151515" stroke-width="1.6"/>
<circle cx="430.8" cy="596" r="1.4" fill="#151515"/>
<path d="M462.7,601.7 L468.7,601.7 L468.7,630.5 Q465.7,632 462.7,630.5 Z" fill="#fff" stroke="#151515" stroke-width="1.3" stroke-linejoin="round" stroke-linecap="round"/>
<path d="M463.1,596 L468.3,596 L468.3,602 L463.1,602 Z" fill="#1a1a1a" stroke="#151515" stroke-width="1" stroke-linejoin="round" stroke-linecap="round"/>
<ellipse cx="465.7" cy="592.7" rx="5.8" ry="3" fill="#fff" stroke="#151515" stroke-width="2.2"/>
<ellipse cx="485.4" cy="626.6" rx="5.5" ry="2.6" fill="#fff" stroke="#151515" stroke-width="1.4"/>
<path d="M482.6,612 L488.6,612 L488.6,626.5 L482.6,626.5 Z" fill="#1a1a1a" stroke="#151515" stroke-width="1" stroke-linejoin="round" stroke-linecap="round"/>
<path d="M483.5,610 L487.6,610" fill="none" stroke="#151515" stroke-width="1.5" stroke-linejoin="round" stroke-linecap="round"/>
<path d="M514.1,611.6 L532.8,601.3" fill="none" stroke="#151515" stroke-width="6.0" stroke-linejoin="round" stroke-linecap="round"/>
<path d="M514.1,611.6 L532.8,601.3" fill="none" stroke="#fff" stroke-width="3.4" stroke-linejoin="round" stroke-linecap="round"/>
<ellipse cx="523.5" cy="606.5" rx="2.3" ry="3.7" transform="rotate(-28 523.5 606.5)" fill="#fff" stroke="#151515" stroke-width="1.3"/>
<path d="M524.5,606 L532.8,601.3" fill="none" stroke="#fff" stroke-width="3.4" stroke-linejoin="round" stroke-linecap="round"/>
<ellipse cx="514.1" cy="611.6" rx="1.9" ry="2.9" transform="rotate(-28 514.1 611.6)" fill="#fff" stroke="#151515" stroke-width="1.3"/>
<polygon points="556.6,587.8 567.5,582.6 568.1,632.8 557.9,638.6" fill="#fff" stroke="#151515" stroke-width="1.4" stroke-linejoin="round"/>
<path d="M562.2,592.5 a1.3,1.3 0 1 1 2,0 l1,3.5 a2.2,2.2 0 1 1 -4,0 z" fill="#fff" stroke="#151515" stroke-width="1.1" stroke-linejoin="round" stroke-linecap="round"/>
<circle cx="563" cy="611.6" r="2.2" fill="none" stroke="#151515" stroke-width="1.2"/>
<circle cx="563" cy="631.5" r="2.2" fill="none" stroke="#151515" stroke-width="1.2"/>
<path d="M592,616 L614.6,605.2 L612,609.5 L593,620 Z" fill="#1a1a1a" stroke="#151515" stroke-width="1.1" stroke-linejoin="round" stroke-linecap="round"/>
<ellipse cx="590.6" cy="618" rx="2.2" ry="3.6" transform="rotate(-30 590.6 618)" fill="#fff" stroke="#151515" stroke-width="1.3"/>
<path d="M626.3,607.3 L640.5,614.6" fill="none" stroke="#151515" stroke-width="4.6" stroke-linejoin="round" stroke-linecap="round"/>
<ellipse cx="642.8" cy="615.6" rx="2.3" ry="3.6" transform="rotate(30 642.8 615.6)" fill="#1a1a1a" stroke="#151515" stroke-width="1.1"/>
<path d="M665,592.8 L667.4,590.8 L677.8,596.4 L676.2,598 L676.2,602 L679.4,603.5 L679.4,614.5 L675.5,616.4 L667,611 Z" fill="#fff" stroke="#151515" stroke-width="1.3" stroke-linejoin="round" stroke-linecap="round"/>
<line x1="665" y1="592.8" x2="676.2" y2="598" stroke="#151515" stroke-width="1"/>
<line x1="676.2" y1="598" x2="676.2" y2="616" stroke="#151515" stroke-width="1"/>
<line x1="667" y1="605" x2="672" y2="608" stroke="#151515" stroke-width="0.9"/>
<line x1="672" y1="608" x2="672" y2="614" stroke="#151515" stroke-width="0.9"/>
</svg>
</body></html>
